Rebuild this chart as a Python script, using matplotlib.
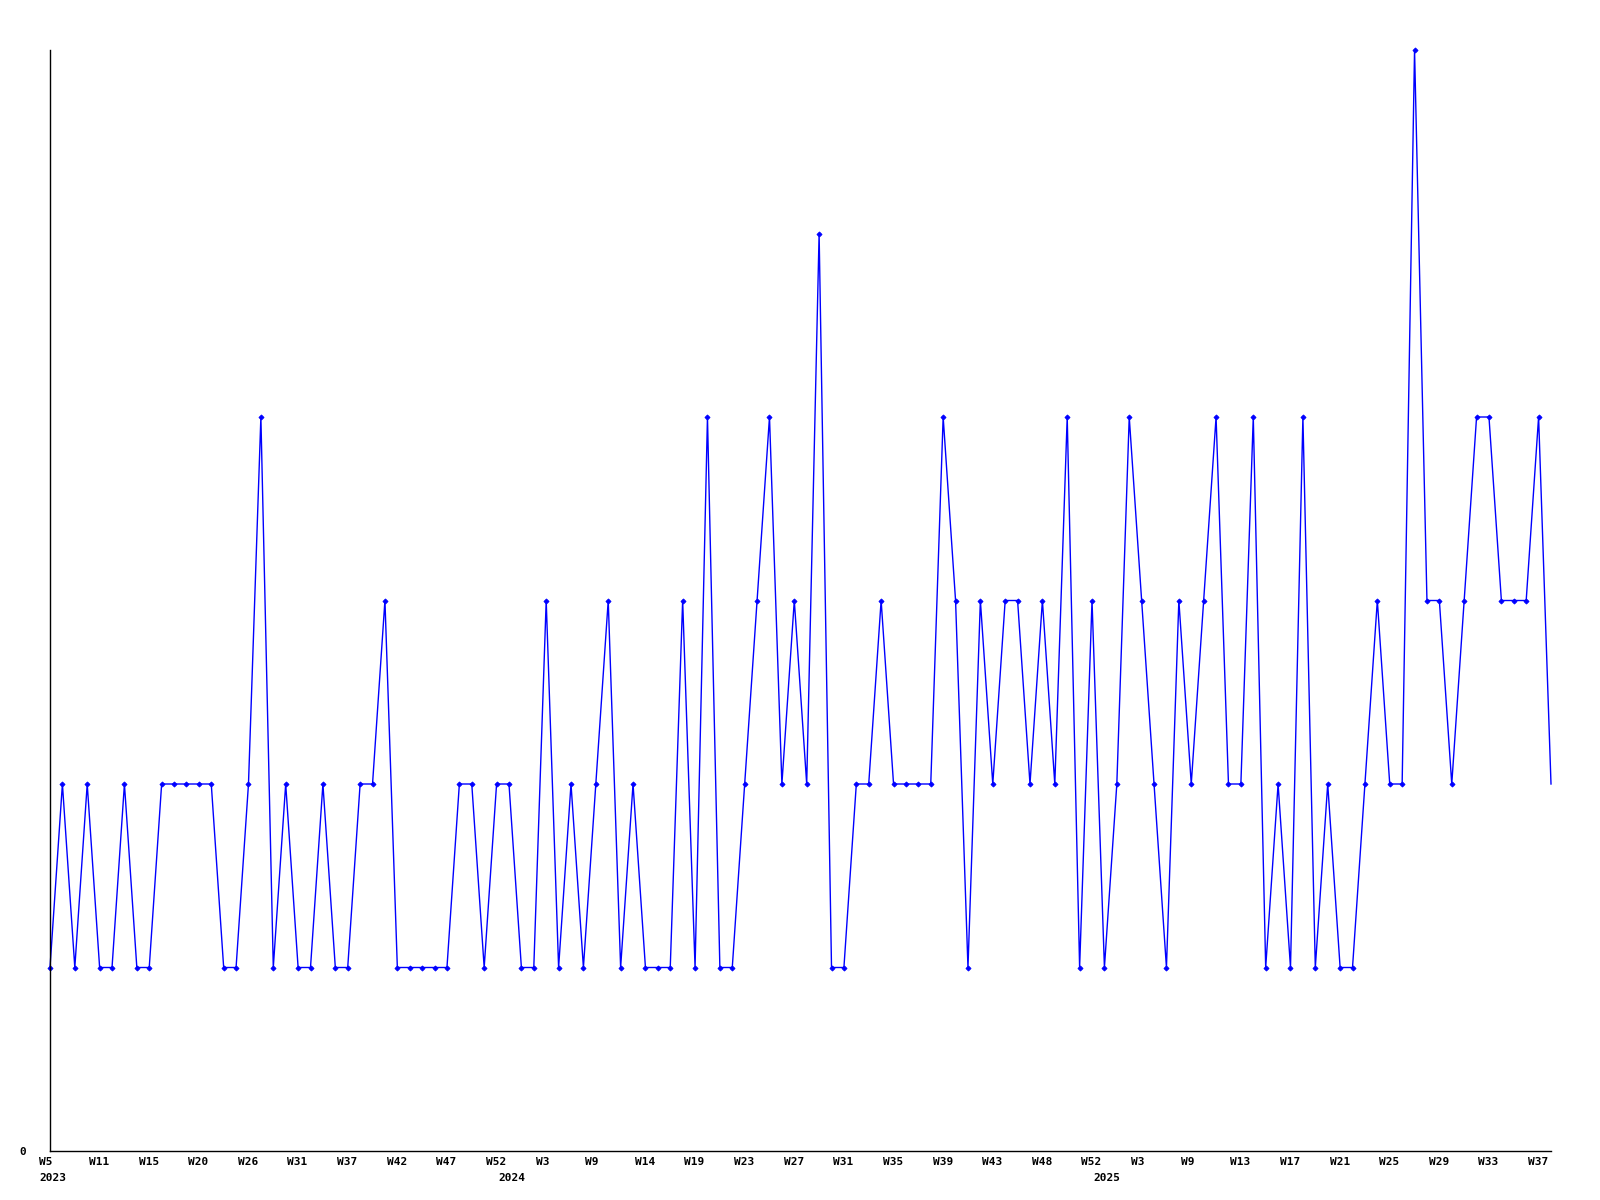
import numpy as np
import matplotlib
matplotlib.use('Agg')
import matplotlib.pyplot as plt

# weekly counts, one point per week with data
values = [1, 2, 1, 2, 1, 1, 2, 1, 1, 2, 2, 2, 2, 2, 1, 1, 2, 4, 1, 2,
          1, 1, 2, 1, 1, 2, 2, 3, 1, 1, 1, 1, 1, 2, 2, 1, 2, 2, 1, 1,
          3, 1, 2, 1, 2, 3, 1, 2, 1, 1, 1, 3, 1, 4, 1, 1, 2, 3, 4, 2,
          3, 2, 5, 1, 1, 2, 2, 3, 2, 2, 2, 2, 4, 3, 1, 3, 2, 3, 3, 2,
          3, 2, 4, 1, 3, 1, 2, 4, 3, 2, 1, 3, 2, 3, 4, 2, 2, 4, 1, 2,
          1, 4, 1, 2, 1, 1, 2, 3, 2, 2, 6, 3, 3, 2, 3, 4, 4, 3, 3, 3,
          4, 2]

week_labels = ['W5', 'W11', 'W15', 'W20', 'W26', 'W31', 'W37', 'W42', 'W47', 'W52',
               'W3', 'W9', 'W14', 'W19', 'W23', 'W27', 'W31', 'W35', 'W39', 'W43',
               'W48', 'W52', 'W3', 'W9', 'W13', 'W17', 'W21', 'W25', 'W29', 'W33',
               'W37']
tick_step = 4

year_labels = ['2023', '2024', '2025']
year_start = [0, 37, 85]

x = np.arange(len(values))

fig = plt.figure(figsize=(16, 12), dpi=100)
ax = fig.add_axes([50 / 1600, 1 - 1151 / 1200, 1501 / 1600, 1101 / 1200])

# last point has no marker in the original
ax.plot(x, values, color='#0000ff', linewidth=1.0, marker='D', markersize=2.6,
        markeredgewidth=0.6, markevery=list(range(len(values) - 1)), clip_on=False)

ax.set_xlim(0, len(values) - 1)
ax.set_ylim(0, 6)

for s in ['top', 'right']:
    ax.spines[s].set_visible(False)
for s in ['left', 'bottom']:
    ax.spines[s].set_linewidth(1.0)
    ax.spines[s].set_color('black')

ax.set_xticks([])
ax.set_yticks([0])
ax.set_yticklabels(['0'], family='DejaVu Sans Mono', fontweight='bold', fontsize=8)
ax.tick_params(axis='y', length=0, pad=17)

font = dict(family='DejaVu Sans Mono', fontweight='bold', fontsize=8)
for i, lab in enumerate(week_labels):
    ax.annotate(lab, xy=(i * tick_step, 0), xycoords='data',
                xytext=(-10.6, -6), textcoords='offset pixels',
                ha='left', va='top', annotation_clip=False, **font)

for idx, lab in zip(year_start, year_labels):
    ax.annotate(lab, xy=(idx, 0), xycoords='data',
                xytext=(-10.6, -22), textcoords='offset pixels',
                ha='left', va='top', annotation_clip=False, **font)

fig.savefig('out.png', dpi=100)
